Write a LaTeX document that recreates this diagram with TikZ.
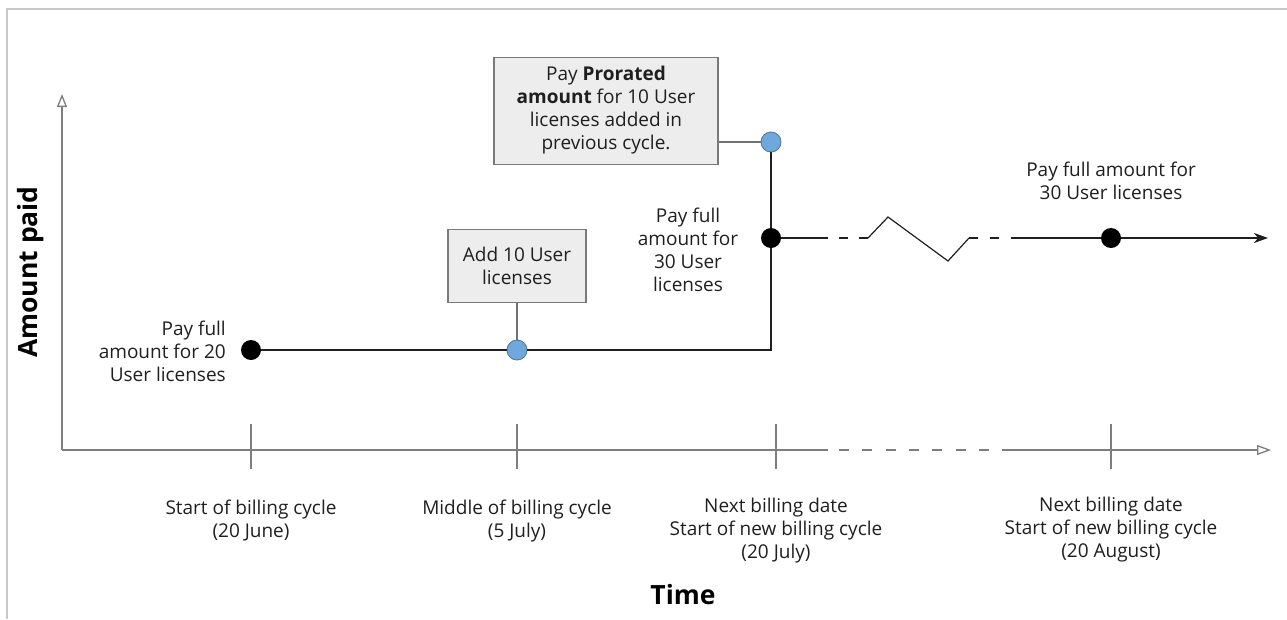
\documentclass[tikz,border=0pt]{standalone}
\usepackage{fontspec}
\setmainfont{Open Sans}
\usetikzlibrary{arrows.meta,positioning,calc}
\definecolor{ink}{HTML}{1F1F1F}
\definecolor{axisgray}{HTML}{7E7E7E}
\definecolor{framegray}{HTML}{C9C9C9}
\definecolor{boxfill}{HTML}{EDEDED}
\definecolor{boxline}{HTML}{7A7A7A}
\definecolor{eventblue}{HTML}{6FA8DC}
\definecolor{eventline}{HTML}{58789C}

\begin{document}
\begin{tikzpicture}[
  x=1pt,y=-1pt,
  line cap=butt,line join=miter,
  font=\fontsize{19}{23}\selectfont,
  axis/.style={draw=axisgray,line width=1.3pt},
  plan/.style={draw=ink,line width=1.2pt},
  paydot/.style={circle,fill=black,minimum size=20pt,inner sep=0pt},
  adddot/.style={circle,fill=eventblue,draw=eventline,line width=.9pt,
                 minimum size=20pt,inner sep=0pt},
  notebox/.style={draw=boxline,fill=boxfill,line width=1.1pt,align=center,
                  inner sep=0pt,text=ink},
  lbl/.style={align=center,text=ink,inner sep=0pt},
  hook/.style={draw=axisgray!90!black,line width=1.1pt}
]
\useasboundingbox (0,0) rectangle (1287,619);
\draw[framegray,line width=1.5pt] (1287,9) -- (7,9) -- (7,619);

% axes
\coordinate (origin) at (62,450);
\coordinate (ytip) at (62,94);
\coordinate (xgap1) at (828,450);
\coordinate (xgap2) at (1002,450);
\coordinate (xtip) at (1271,450);
\draw[axis,-{Triangle[open,length=13pt,width=10pt]}] (origin) -- (ytip);
\draw[axis] (origin) -- (xgap1);
\draw[axis,dash pattern=on 10pt off 13.3pt,dash phase=12.3pt] (xgap1) -- (xgap2);
\draw[axis,-{Triangle[open,length=14pt,width=10pt]}] (xgap2) -- (xtip);
\foreach \tx in {251,517,776,1111}
  \draw[axis] (\tx,424) -- (\tx,469);

\node[font=\fontsize{26.5}{30}\bfseries\selectfont,text=black] (ytitle)
  at (31,272) [rotate=90] {Amount paid};
\node[font=\fontsize{26.5}{30}\bfseries\selectfont,text=black] (xtitle)
  at (683,595) {Time};

% tick labels
\node[lbl,anchor=north] (tstart) at (251,500) {Start of billing cycle\\(20 June)};
\node[lbl,anchor=north] (tmid) at (517,500) {Middle of billing cycle\\(5 July)};
\node[lbl,anchor=north] (tnext) at (776,498)
  {Next billing date\\Start of new billing cycle\\(20 July)};
\node[lbl,anchor=north] (tlater) at (1111,497)
  {Next billing date\\Start of new billing cycle\\(20 August)};

% events
\node[paydot] (pay20) at (251,350) {};
\node[adddot] (add10) at (517,350) {};
\coordinate (riser) at (771,350);
\node[paydot] (pay30) at (771,238) {};
\node[adddot] (prorate) at (771,142) {};
\node[paydot] (pay30b) at (1111,238) {};

\node[notebox,minimum width=138pt,minimum height=73pt] (addbox) at (517,266)
  {Add 10 User\\licenses};
\node[notebox,minimum width=224pt,minimum height=107pt,text depth=7pt] (probox)
  at (606,111)
  {Pay \textbf{Prorated}\\\textbf{amount} for 10 User\\licenses added in\\previous cycle.};
\draw[hook] (addbox) -- (add10);
\draw[hook] (probox.east |- prorate) -- (prorate);

\draw[plan] (pay20) -- (add10) -- (riser) -- (pay30) -- (prorate);

% break in time
\coordinate (brk1) at (828,238);
\coordinate (brk2) at (868,238);
\coordinate (brk3) at (969,238);
\coordinate (brk4) at (1011,238);
\coordinate (endtip) at (1268,238);
\draw[plan] (pay30) -- (brk1);
\draw[plan,dash pattern=on 9pt off 11pt,dash phase=9pt] (brk1) -- (brk2);
\draw[plan] (brk2) -- (888,217) -- (948,261) -- (brk3);
\draw[plan,dash pattern=on 9pt off 12pt] (brk3) -- (brk4);
\draw[plan,-{Stealth[length=14pt,width=10pt,inset=4pt]}] (brk4) -- (pay30b) -- (endtip);

% payment labels
\node[lbl,align=right,anchor=east] (l20) at (226,351)
  {Pay full\\amount for 20\\User licenses};
\node[lbl] (l30) at (688,250) {Pay full\\amount for\\30 User\\licenses};
\node[lbl] (l30b) at (1111,181) {Pay full amount for\\30 User licenses};
\end{tikzpicture}
\end{document}
